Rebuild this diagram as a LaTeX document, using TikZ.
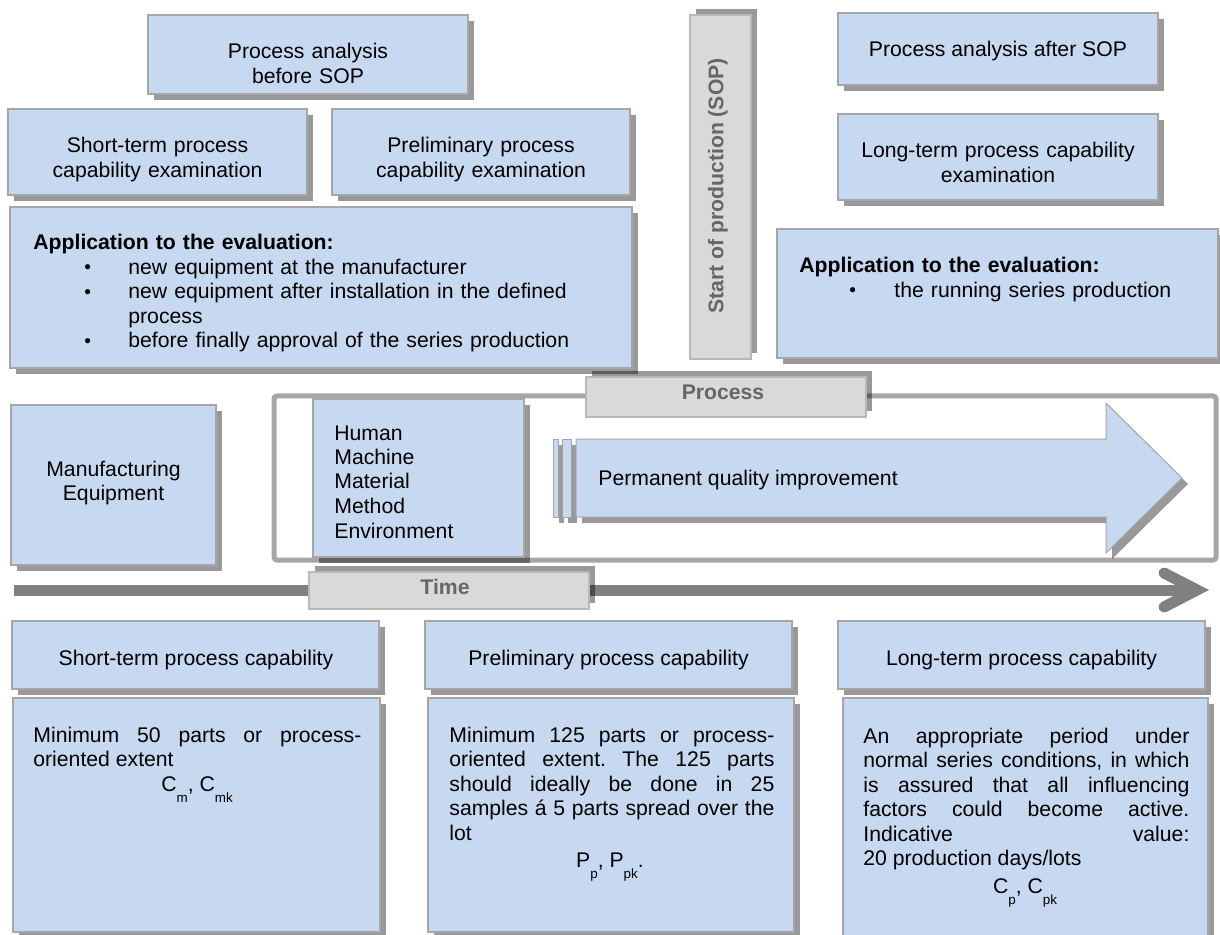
\documentclass[tikz,border=0pt]{standalone}
\usepackage{fontspec}
\setmainfont{Liberation Sans}
\usetikzlibrary{shadows,fit}
\frenchspacing
\definecolor{boxblue}{HTML}{C6D9F0}
\definecolor{boxline}{HTML}{A6A6A6}
\definecolor{lblfill}{HTML}{D9D9D9}
\definecolor{lbltext}{HTML}{666666}
\definecolor{timegray}{HTML}{808080}
\definecolor{framegray}{HTML}{A6A6A6}
\newcommand\sbs[1]{\raisebox{-5.5pt}{\fontsize{6.7pt}{7pt}\selectfont #1}}
\newcommand\smbul{\raisebox{0.4pt}{\fontsize{9.5pt}{9.5pt}\selectfont\textbullet}}
\newcommand\blt[1]{\hspace*{25.5pt}\makebox[22pt][l]{\smbul}#1}
\begin{document}
\begin{tikzpicture}[x=0.5pt,y=-0.5pt,
  font=\fontsize{10.6pt}{12.25pt}\selectfont\frenchspacing,
  shd/.style={drop shadow={shadow xshift=3pt, shadow yshift=-3pt, fill=black, opacity=0.4}},
  shdup/.style={drop shadow={shadow xshift=3pt, shadow yshift=3pt, fill=black, opacity=0.4}},
  bbox/.style={fit={#1}, inner sep=0pt, fill=boxblue, draw=boxline, line width=0.7pt, shd},
  lbox/.style={fit={#1}, inner sep=0pt, fill=lblfill, draw=boxline!80, line width=0.7pt, shdup},
  txt/.style={inner sep=0pt, anchor=base},
  ctxt/.style={txt, text width=#1, align=center},
  ltxt/.style={txt, text width=#1, align=left, anchor=base west},
  jtxt/.style={txt, text width=#1, align=justify, anchor=base west},
  lbl/.style={txt, font=\fontsize{10.6pt}{12.25pt}\selectfont\bfseries, text=lbltext}]
\useasboundingbox (0,0) rectangle (1220,935);

% time axis
\coordinate (tl0) at (14,590);
\coordinate (tl1) at (1197,590);
\coordinate (ta1) at (1164,573);
\coordinate (ta2) at (1164,607);
\draw[timegray, line width=5.5pt] (tl0) -- (tl1);
\draw[timegray, line width=5.5pt, line cap=round, line join=miter] (ta1) -- (tl1) -- (ta2);

% process frame
\node[draw=framegray, line width=2.5pt, rounded corners=1.5pt, fit={(274,396)(1216,560)}, inner sep=0pt] (frame) {};

% quality improvement arrow
\path[fill=boxblue, draw=boxline, line width=0.5pt, shd] (553,439) rectangle (558,517);
\path[fill=boxblue, draw=boxline, line width=0.5pt, shd] (562,439) rectangle (571,517);
\path[fill=boxblue, draw=boxline, line width=0.5pt, shd] (576,439) -- (1106,439) -- (1106,403) -- (1182,478) -- (1106,553) -- (1106,517) -- (576,517) -- cycle;
\node[txt, anchor=base west] (pqt) at (598,485) {Permanent quality improvement};

% human box
\node[bbox={(313,399)(524,557)}] (hum) {};
\node[ltxt=100pt] (humt) at (334,440) {Human\\Machine\\Material\\Method\\Environment};

% manufacturing equipment
\node[bbox={(11,405)(216,565)}] (man) {};
\node[ctxt=100pt] (mant) at (113.5,476) {Manufacturing\\Equipment};

% labels
\node[lbox={(586,377)(866,417)}] (proc) {};
\node[lbl] (proct) at (723,400) {Process};
\node[lbox={(309,572)(589,609)}] (time) {};
\node[lbl] (timet) at (445,594) {Time};
\node[lbox={(690,15)(751,359)}] (sop) {};
\node[lbl, rotate=90, anchor=center] (sopt) at (718,186) {Start of production (SOP)};

% top left
\node[bbox={(148,15)(468,94)}] (pab) {};
\node[ctxt=150pt] (pabt) at (308,59) {Process analysis\\before SOP};
\node[bbox={(8,109)(307,195)}] (ste) {};
\node[ctxt=150pt] (stet) at (157.5,153) {Short-term process\\capability examination};
\node[bbox={(332,109)(630,195)}] (pre) {};
\node[ctxt=150pt] (pret) at (481,153) {Preliminary process\\capability examination};
\node[bbox={(10,207)(632,368)}] (appl) {};
\node[ltxt=290pt] (applt) at (33,250) {\textbf{Application to the evaluation:}\\
\blt{new equipment at the manufacturer}\\
\blt{new equipment after installation in the defined}\\
\hspace*{47.5pt}process\\
\blt{before finally approval of the series production}};

% top right
\node[bbox={(838,13)(1158,85)}] (paa) {};
\node[txt] (paat) at (998,57) {Process analysis after SOP};
\node[bbox={(838,114)(1158,200)}] (lte) {};
\node[ctxt=160pt] (ltet) at (998,158) {Long-term process capability\\examination};
\node[bbox={(777,229)(1218,358)}] (appr) {};
\node[ltxt=200pt] (apprt) at (799,273) {\textbf{Application to the evaluation:}\\
\hspace*{25pt}\makebox[22.5pt][l]{\smbul}the running series production};

% bottom headers
\node[bbox={(12,621)(379,689)}] (stpc) {};
\node[txt] (stpct) at (196,665) {Short-term process capability};
\node[bbox={(425,621)(792,689)}] (prpc) {};
\node[txt] (prpct) at (608.5,665) {Preliminary process capability};
\node[bbox={(838,621)(1205,689)}] (ltpc) {};
\node[txt] (ltpct) at (1021.5,665) {Long-term process capability};

% bottom details
\node[bbox={(13,698)(380,932)}] (std) {};
\node[jtxt=164pt] (stdt) at (33,742) {Minimum 50 parts or process-\linebreak oriented extent};
\node[txt] (stdf) at (197,791) {C\sbs{m}, C\sbs{mk}};

\node[bbox={(428,698)(794,932)}] (prd) {};
\node[jtxt=162.5pt] (prdt) at (449,742) {Minimum 125 parts or process-\linebreak oriented extent. The 125 parts\linebreak should ideally be done in 25\linebreak samples á 5 parts spread over the\linebreak lot};
\node[txt] (prdf) at (610,867) {P\sbs{p}, P\sbs{pk}.};

\node[bbox={(843,698)(1208,942)}] (ltd) {};
\node[jtxt=163pt] (ltdt) at (863,743) {An appropriate period under\linebreak normal series conditions, in which\linebreak is assured that all influencing\linebreak factors could become active.\linebreak Indicative value:\linebreak 20 production days/lots};
\node[txt] (ltdf) at (1025,893) {C\sbs{p}, C\sbs{pk}};
\end{tikzpicture}
\end{document}
